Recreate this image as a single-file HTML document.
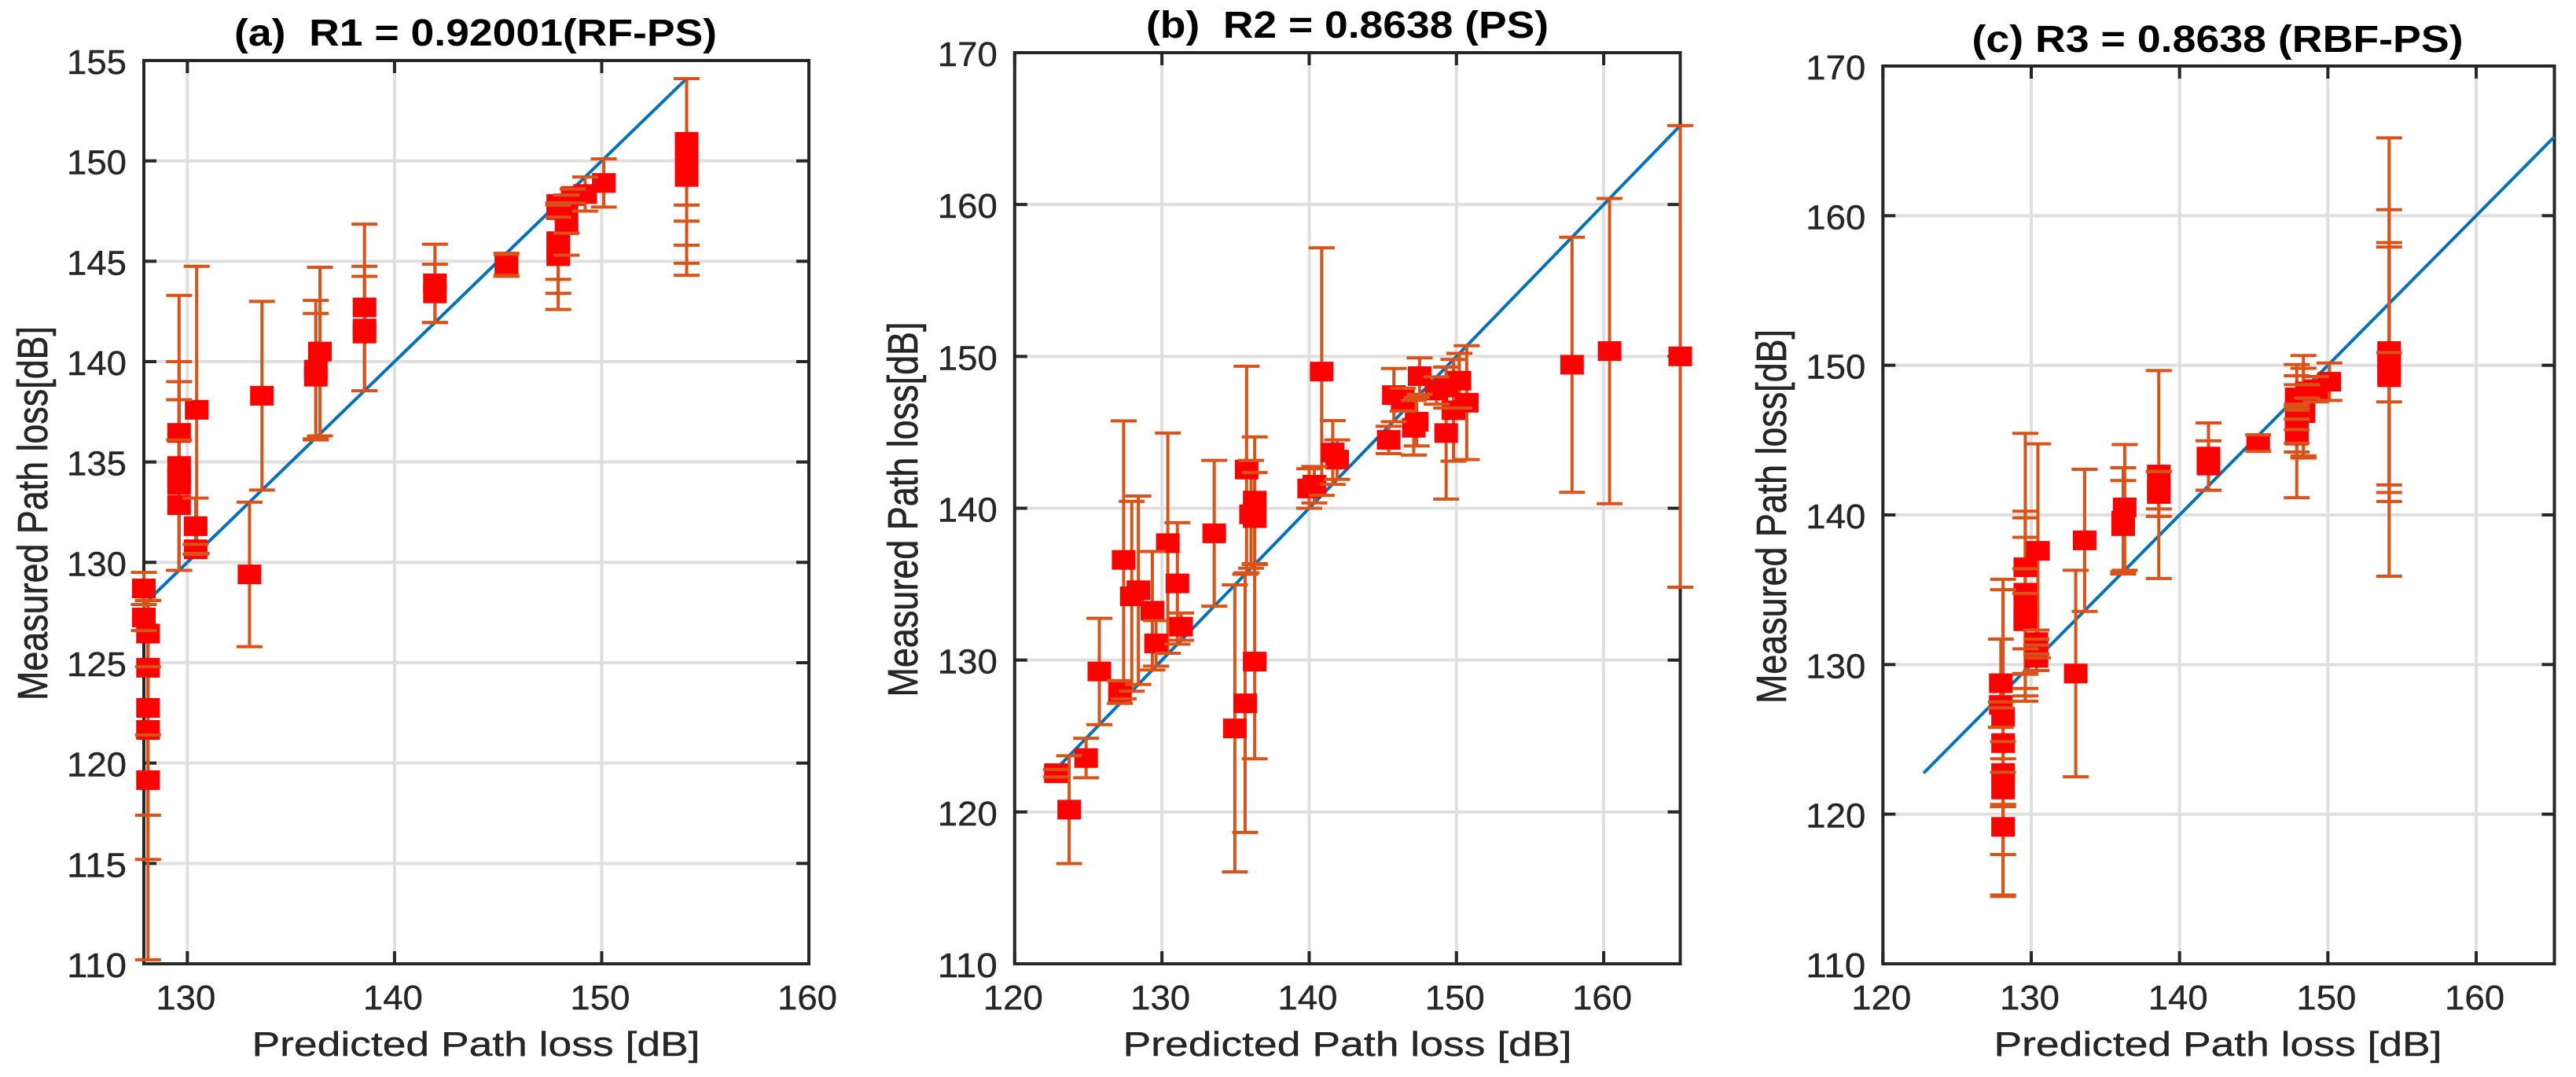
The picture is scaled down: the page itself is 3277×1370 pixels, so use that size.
<!DOCTYPE html>
<html lang="en">
<head>
<meta charset="utf-8">
<title>Measured vs predicted path loss</title>
<style>
html,body{margin:0;padding:0;background:#fff;width:3277px;height:1370px;overflow:hidden}
svg{position:absolute;left:0;top:0;display:block}
text{font-family:"Liberation Sans",Arial,sans-serif;fill:#262626}
.title{font-weight:bold;font-size:48px;fill:#000;white-space:pre}
.axis-label{font-size:44px;stroke:#262626;stroke-width:0.4px}
.y-label{font-size:43px;stroke:#262626;stroke-width:0.5px}
.tick{font-size:44px;stroke:#262626;stroke-width:0.4px}
</style>
</head>
<body>
<svg id="chart" xmlns="http://www.w3.org/2000/svg" width="3277" height="1370" viewBox="0 0 3277 1370">
  <rect x="0" y="0" width="3277" height="1370" fill="#fff"/>
  <g id="panel-a"></g>
  <g id="panel-b"></g>
  <g id="panel-c"></g>
  <text class="title" x="605" y="58" text-anchor="middle" textLength="614" lengthAdjust="spacingAndGlyphs">(a)  R1 = 0.92001(RF-PS)</text>
  <text class="title" x="1714" y="48" text-anchor="middle" textLength="512" lengthAdjust="spacingAndGlyphs">(b)  R2 = 0.8638 (PS)</text>
  <text class="title" x="2821" y="66" text-anchor="middle" textLength="625" lengthAdjust="spacingAndGlyphs">(c) R3 = 0.8638 (RBF-PS)</text>
  <text class="axis-label" x="605.5" y="1343" text-anchor="middle" textLength="570" lengthAdjust="spacingAndGlyphs">Predicted Path loss [dB]</text>
  <text class="axis-label" x="1714" y="1343" text-anchor="middle" textLength="571" lengthAdjust="spacingAndGlyphs">Predicted Path loss [dB]</text>
  <text class="axis-label" x="2821.5" y="1343" text-anchor="middle" textLength="570" lengthAdjust="spacingAndGlyphs">Predicted Path loss [dB]</text>
  <text class="y-label" transform="translate(60 653) rotate(-90) scale(1 1.25)" text-anchor="middle" textLength="476" lengthAdjust="spacingAndGlyphs">Measured Path loss[dB]</text>
  <text class="y-label" transform="translate(1167 648) rotate(-90) scale(1 1.25)" text-anchor="middle" textLength="477" lengthAdjust="spacingAndGlyphs">Measured Path loss[dB]</text>
  <text class="y-label" transform="translate(2272 657) rotate(-90) scale(1 1.25)" text-anchor="middle" textLength="476" lengthAdjust="spacingAndGlyphs">Measured Path loss[dB]</text>
</svg>
<script>
// Panel (a) data
const xTicksA = [130, 140, 150, 160];
const yTicksA = [110, 115, 120, 125, 130, 135, 140, 145, 150, 155];
const xLimitsA = [127.9, 160];
const yLimitsA = [110, 155];
const lineRangeA = [127.9, 154.1];
const predictedA = [154.1,154.1,154.1,154.1,154.1,150.1,149.2,148.6,148.3,148.3,147.9,147.9,147.9,147.9,147.9,145.4,145.4,141.95,141.95,138.55,138.55,138.55,136.4,136.2,136.2,133.6,133,130.45,130.4,130.4,129.6,129.6,129.6,129.6,129.6,127.9,127.9,128.1,128.1,128.1,128.1,128.1];
const measuredA = [150.95,150.55,149.95,149.5,149.2,148.9,148.35,148.25,147.35,146.8,147.85,147.55,146,145.65,145.25,144.85,144.8,143.9,143.4,142.7,141.65,141.4,140.5,139.6,139.25,138.3,129.4,137.6,131.8,130.65,136.45,134.8,134.3,133.85,132.85,128.7,127.25,126.45,124.75,122.75,121.65,119.15];
const errorA = [3.15,3.55,4.15,4.6,4.9,1.2,0.85,0.35,0.95,1.5,0.05,0.35,1.9,2.25,2.65,0.55,0.55,1.95,1.45,4.15,3.1,2.85,4.2,3.45,3.15,4.7,3.6,7.15,1.4,0.25,6.85,5.2,4.7,4.25,3.25,0.8,0.65,1.65,3.35,5.35,6.45,8.95];

// Panel (b) data
const xTicksB = [120, 130, 140, 150, 160];
const yTicksB = [110, 120, 130, 140, 150, 160, 170];
const xLimitsB = [120, 165.2];
const yLimitsB = [110, 170];
const lineRangeB = [122.7, 165.2];
const predictedB = [165.2,160.4,157.85,140.85,141.6,141.9,140.35,140,145.4,145.75,146.35,147.5,147.3,147.1,148.65,149.3,149.3,149.8,150.2,150.7,133.55,135.75,136.3,136.3,136.3,136.05,135.65,134.95,130.4,131.05,131.3,127.4,127.95,128.4,129.35,129.6,125.75,127.15,124.85,123.7,122.8];
const measuredB = [150,150.35,149.45,149,143.67,143.2,141.55,141.3,144.5,147.45,147.15,148.7,145.7,145.3,147.75,144.95,147.95,146.45,148.4,146.95,138.35,142.55,140.5,139.35,129.9,139.6,127.15,125.5,137.7,135.05,132.2,136.6,134.2,134.6,133.25,131.1,129.25,127.9,123.55,120.15,122.55];
const errorB = [15.2,10.05,8.4,8.15,2.1,1.3,1.2,1.3,0.9,1.75,0.75,1.2,1.6,1.8,0.9,4.35,1.35,3.35,1.8,3.75,4.8,6.8,4.2,3,6.4,3.55,8.5,9.45,7.25,4,0.9,9.15,6.25,6.2,3.9,1.5,3.5,0.75,1.3,3.55,0.25];

// Panel (c) data
const xTicksC = [120, 130, 140, 150, 160];
const yTicksC = [110, 120, 130, 140, 150, 160, 170];
const xLimitsC = [120, 165.27];
const yLimitsC = [110, 170];
const lineRangeC = [122.74, 165.27];
const predictedC = [154.13,154.13,154.13,154.13,154.13,150.1,149.2,148.6,148.35,148.35,147.9,147.9,147.9,147.9,147.9,147.9,145.3,141.95,141.95,138.6,138.6,138.6,136.3,136.2,136.2,133.6,133,130.45,130.35,130.35,130.35,129.6,129.6,129.6,129.6,129.6,129.6,128.1,128.1,128.1,128.1,128.1,127.95,127.95];
const measuredC = [150.95,150.55,150.1,149.4,149.2,148.9,148.4,148.25,147.3,146.8,145.6,147.85,147.85,146.1,145.3,146.45,144.8,143.9,143.3,142.7,141.4,141.65,140.5,139.6,139.25,138.3,129.4,137.6,131.5,130.65,130.45,136.5,134.8,134.1,133.2,132.9,132.9,126.5,124.75,122.75,121.65,119.15,128.75,127.3];
const errorC = [9.45,14.65,8.1,8.5,1.65,1.25,0.85,0.45,3.35,3,4.45,1.45,0.85,1.3,1.1,0.75,0.55,2.25,1.65,6.95,1.5,1.25,4.2,3.55,3.05,4.75,6.9,7.15,0.8,1.05,0.85,8.95,5.45,5.7,5.3,3.5,1.85,9.2,10.25,2.1,1.15,4.55,2.95,0.2];

const SVG_NS = 'http://www.w3.org/2000/svg';
const GRID = '#dfdfdf', AXIS = '#262626', ORANGE = '#D95319', BLUE = '#0072BD', RED = '#FF0000';
const TICK_LEN = 16, MARKER_W = 30, MARKER_H = 25, CAP_W = 33;

function makeLine(parent, x1, y1, x2, y2, color, width) {
  const el = document.createElementNS(SVG_NS, 'line');
  el.setAttribute('x1', x1);
  el.setAttribute('y1', y1);
  el.setAttribute('x2', x2);
  el.setAttribute('y2', y2);
  el.setAttribute('stroke', color);
  el.setAttribute('stroke-width', width);
  parent.appendChild(el);
  return el;
}

function makeRect(parent, x, y, w, h, color) {
  const el = document.createElementNS(SVG_NS, 'rect');
  el.setAttribute('x', x);
  el.setAttribute('y', y);
  el.setAttribute('width', w);
  el.setAttribute('height', h);
  el.setAttribute('fill', color);
  parent.appendChild(el);
  return el;
}

function makeTick(parent, x, y, anchor, label) {
  const el = document.createElementNS(SVG_NS, 'text');
  el.setAttribute('class', 'tick');
  el.setAttribute('x', x);
  el.setAttribute('y', y);
  el.setAttribute('text-anchor', anchor);
  el.setAttribute('textLength', '76');
  el.setAttribute('lengthAdjust', 'spacingAndGlyphs');
  el.textContent = label;
  parent.appendChild(el);
  return el;
}

function drawPanel(id, box, xLimits, yLimits, xTicks, yTicks, lineRange, predicted, measured, errors) {
  const root = document.getElementById(id);
  const xScale = v => box.left + (v - xLimits[0]) / (xLimits[1] - xLimits[0]) * (box.right - box.left);
  const yScale = v => box.bottom - (v - yLimits[0]) / (yLimits[1] - yLimits[0]) * (box.bottom - box.top);

  xTicks.forEach(t => {
    const g = makeLine(root, xScale(t), box.top, xScale(t), box.bottom, GRID, 4);
    
    
  });
  yTicks.forEach(t => {
    const g = makeLine(root, box.left, yScale(t), box.right, yScale(t), GRID, 4);
    
    
  });

  xTicks.forEach(t => {
    const a = makeLine(root, xScale(t), box.bottom, xScale(t), box.bottom - TICK_LEN, AXIS, 4);
    
    
    const b = makeLine(root, xScale(t), box.top, xScale(t), box.top + TICK_LEN, AXIS, 4);
    
    
    const l = makeTick(root, xScale(t) - 2, 1284, 'middle', String(t));
    
    
  });
  yTicks.forEach(t => {
    const a = makeLine(root, box.left, yScale(t), box.left + TICK_LEN, yScale(t), AXIS, 4);
    
    
    const b = makeLine(root, box.right, yScale(t), box.right - TICK_LEN, yScale(t), AXIS, 4);
    
    
    const l = makeTick(root, box.left - 22, yScale(t) + 17, 'end', String(t));
    
    
  });

  const frame = makeRect(root, box.left, box.top, box.right - box.left, box.bottom - box.top, 'none');
  frame.setAttribute('stroke', AXIS);
  frame.setAttribute('stroke-width', '4');
  
  

  const ref = makeLine(root, xScale(lineRange[0]), yScale(lineRange[0]), xScale(lineRange[1]), yScale(lineRange[1]), BLUE, 4);
  
  

  predicted.forEach((p, i) => {
    const bar = makeLine(root, xScale(p), yScale(measured[i] + errors[i]), xScale(p), yScale(measured[i] - errors[i]), ORANGE, 4);
    
    
  });
  predicted.forEach((p, i) => {
    const marker = makeRect(root, xScale(p) - MARKER_W / 2, yScale(measured[i]) - MARKER_H / 2, MARKER_W, MARKER_H, RED);
    
    
  });
  predicted.forEach((p, i) => {
    const top = makeLine(root, xScale(p) - CAP_W / 2, yScale(measured[i] + errors[i]), xScale(p) + CAP_W / 2, yScale(measured[i] + errors[i]), ORANGE, 4);
    
    
    const low = makeLine(root, xScale(p) - CAP_W / 2, yScale(measured[i] - errors[i]), xScale(p) + CAP_W / 2, yScale(measured[i] - errors[i]), ORANGE, 4);
    
    
  });
}

drawPanel('panel-a', {left: 183, right: 1029, top: 77, bottom: 1226}, xLimitsA, yLimitsA, xTicksA, yTicksA, lineRangeA, predictedA, measuredA, errorA);
drawPanel('panel-b', {left: 1290.8, right: 2137.5, top: 67, bottom: 1226}, xLimitsB, yLimitsB, xTicksB, yTicksB, lineRangeB, predictedB, measuredB, errorB);
drawPanel('panel-c', {left: 2395.3, right: 3249.5, top: 84, bottom: 1226}, xLimitsC, yLimitsC, xTicksC, yTicksC, lineRangeC, predictedC, measuredC, errorC);
</script>
</body>
</html>
